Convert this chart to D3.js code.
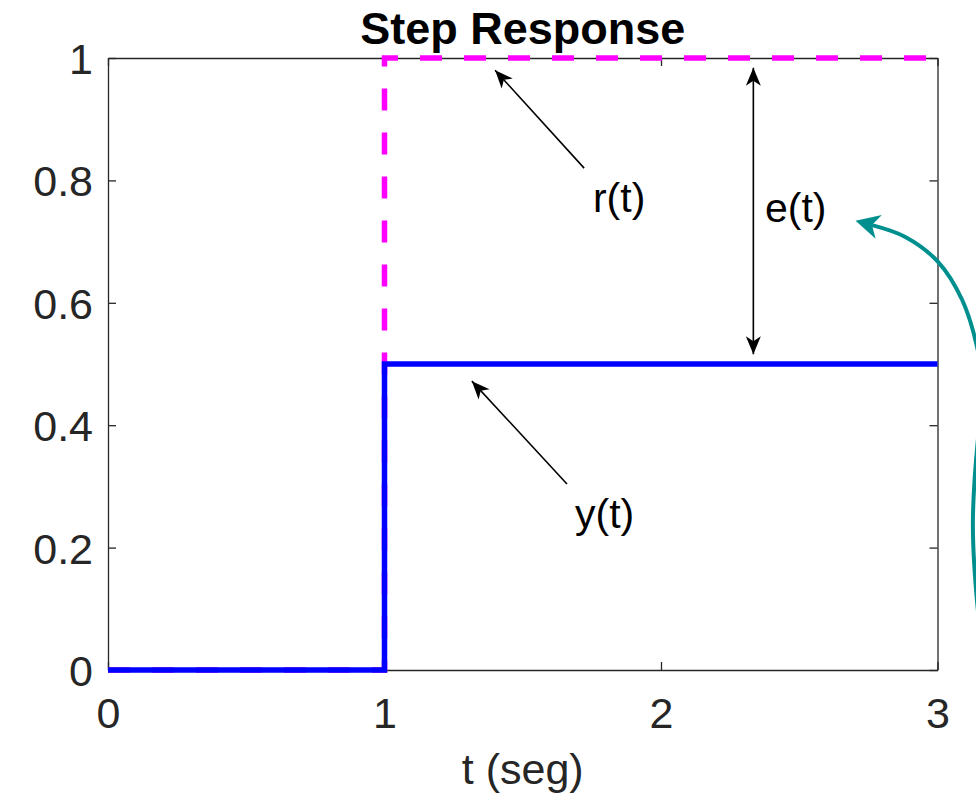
<!DOCTYPE html>
<html>
<head>
<meta charset="utf-8">
<script src="https://cdn.jsdelivr.net/npm/d3@7"></script>
<style>
    body { margin: 0; overflow: hidden; background: #fff; }
</style>
</head>
<body>
<svg id="chart" width="976" height="794"></svg>
<script>
// step data
const tPoints = [0, 1, 1, 3]
const referenceValues = [0, 0, 1, 1]
const outputValues = [0, 0, 0.5, 0.5]

const xTicks = [0, 1, 2, 3]
const yTicks = [0, 0.2, 0.4, 0.6, 0.8, 1]

const chartTitle = "Step Response"
const xLabel = "t (seg)"

// annotations, in data units
const annotationLabels = ["r(t)", "e(t)", "y(t)"]
const labelPositions = [[1.754, 0.748], [2.376, 0.732], [1.689, 0.232]]
const pointerArrows = [
    [[1.722, 0.820], [1.400, 0.980]],
    [[1.660, 0.304], [1.316, 0.472]]
]
const errorArrow = [[2.334, 0.516], [2.334, 0.984]]
const tealCurve = [
    [3.190, -0.049], [3.146, 0.098], [3.128, 0.237], [3.146, 0.376],
    [3.168, 0.449], [3.143, 0.528], [3.089, 0.605], [3.002, 0.667],
    [2.882, 0.708], [2.763, 0.727]
]

const FONT = "'Liberation Sans', Arial, Helvetica, sans-serif",
    AXIS_COLOR = "#262626"

let svg = d3.select("#chart"),
    xScale = d3.scaleLinear().domain([0, 3]).range([108, 937.5]),
    yScale = d3.scaleLinear().domain([0, 1]).range([670, 58]),
    line = d3.line()
        .x(datum => xScale(datum[0]))
        .y(datum => yScale(datum[1]))

let defs = svg.append("defs")

defs.append("marker")
    .attr("id", "blackHead")
    .attr("markerUnits", "userSpaceOnUse")
    .attr("viewBox", "-20 -10 22 20")
    .attr("refX", 0)
    .attr("refY", 0)
    .attr("markerWidth", 22)
    .attr("markerHeight", 20)
    .attr("orient", "auto-start-reverse")
    .append("path")
    .attr("d", "M0,0 L-18,-7.5 L-13,0 L-18,7.5 Z")
    .attr("fill", "#000")

defs.append("marker")
    .attr("id", "tealHead")
    .attr("markerUnits", "userSpaceOnUse")
    .attr("viewBox", "-26 -14 30 28")
    .attr("refX", -17)
    .attr("refY", 0)
    .attr("markerWidth", 30)
    .attr("markerHeight", 28)
    .attr("orient", "auto")
    .append("path")
    .attr("d", "M0,0 L-24,-12.2 L-17,0 L-24,12.2 Z")
    .attr("fill", "#008f8f")

// axes box with inward ticks on all sides
function styleAxis(group) {
    group.attr("font-family", FONT)
        .attr("font-size", 43)
    group.select(".domain")
        .attr("stroke", AXIS_COLOR)
        .attr("stroke-width", 1.3)
    group.selectAll(".tick line")
        .attr("stroke", AXIS_COLOR)
        .attr("stroke-width", 1.3)
    group.selectAll(".tick text")
        .attr("fill", AXIS_COLOR)
}

svg.append("g")
    .attr("transform", `translate(0, ${yScale(0)})`)
    .call(d3.axisBottom(xScale).tickValues(xTicks).tickSizeInner(-8).tickSizeOuter(0).tickPadding(27)
        .tickFormat(d => String(d)))
    .call(styleAxis)

svg.append("g")
    .attr("transform", `translate(0, ${yScale(1)})`)
    .call(d3.axisTop(xScale).tickValues(xTicks).tickSizeInner(-8).tickSizeOuter(0).tickFormat(""))
    .call(styleAxis)

svg.append("g")
    .attr("transform", `translate(${xScale(0)}, 0)`)
    .call(d3.axisLeft(yScale).tickValues(yTicks).tickSizeInner(-8).tickSizeOuter(0).tickPadding(15)
        .tickFormat(d => String(d)))
    .call(styleAxis)
    .selectAll(".tick text")
    .attr("dy", "0.36em")

svg.append("g")
    .attr("transform", `translate(${xScale(3)}, 0)`)
    .call(d3.axisRight(yScale).tickValues(yTicks).tickSizeInner(-8).tickSizeOuter(0).tickFormat(""))
    .call(styleAxis)

// reference r(t), dashed magenta
svg.append("path")
    .datum(d3.zip(tPoints, referenceValues))
    .attr("d", line)
    .attr("fill", "none")
    .attr("stroke", "#ff00ff")
    .attr("stroke-width", 5.5)
    .attr("stroke-dasharray", "22,22")
    .attr("stroke-linejoin", "miter")

// output y(t), solid blue
svg.append("path")
    .datum(d3.zip(tPoints, outputValues))
    .attr("d", line)
    .attr("fill", "none")
    .attr("stroke", "#0000ff")
    .attr("stroke-width", 5.5)
    .attr("stroke-linejoin", "miter")

// title and label
svg.append("text")
    .text(chartTitle)
    .attr("x", (xScale(0) + xScale(3)) / 2)
    .attr("y", 44)
    .attr("text-anchor", "middle")
    .style("font-family", FONT)
    .style("font-size", "45px")
    .style("font-weight", "bold")
    .style("fill", "#000")

svg.append("text")
    .text(xLabel)
    .attr("x", (xScale(0) + xScale(3)) / 2)
    .attr("y", 784)
    .attr("text-anchor", "middle")
    .style("font-family", FONT)
    .style("font-size", "43px")
    .style("fill", AXIS_COLOR)

// annotations
svg.selectAll("path.pointer")
    .data(pointerArrows)
    .join("path")
    .attr("class", "pointer")
    .attr("d", line)
    .attr("fill", "none")
    .attr("stroke", "#000")
    .attr("stroke-width", 1.6)
    .attr("marker-end", "url(#blackHead)")

svg.append("path")
    .datum(errorArrow)
    .attr("d", line)
    .attr("fill", "none")
    .attr("stroke", "#000")
    .attr("stroke-width", 1.6)
    .attr("marker-start", "url(#blackHead)")
    .attr("marker-end", "url(#blackHead)")

svg.selectAll("text.annotation")
    .data(annotationLabels)
    .join("text")
    .attr("class", "annotation")
    .text(datum => datum)
    .attr("x", (datum, i) => xScale(labelPositions[i][0]))
    .attr("y", (datum, i) => yScale(labelPositions[i][1]))
    .style("font-family", FONT)
    .style("font-size", "41px")
    .style("fill", "#000")

svg.append("path")
    .datum(tealCurve)
    .attr("d", line.curve(d3.curveCatmullRom))
    .attr("fill", "none")
    .attr("stroke", "#008f8f")
    .attr("stroke-width", 4)
    .attr("marker-end", "url(#tealHead)")
</script>
</body>
</html>
